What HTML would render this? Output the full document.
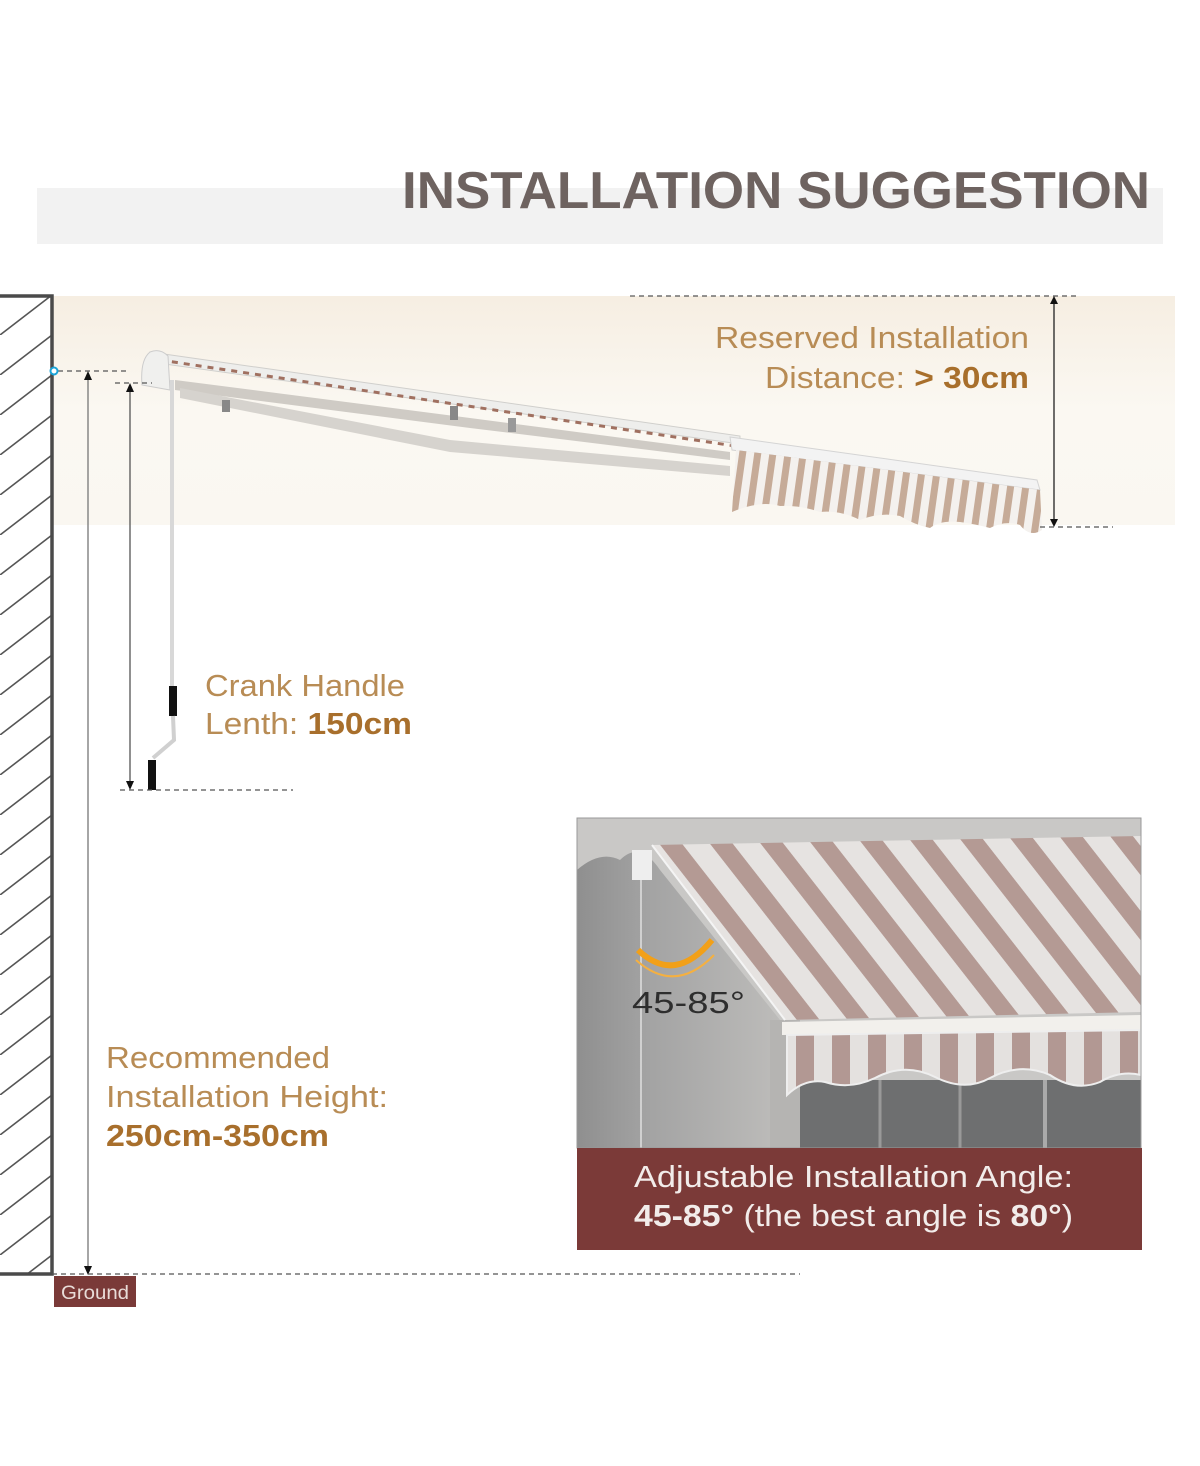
<!DOCTYPE html>
<html><head><meta charset="utf-8"><style>
html,body{margin:0;padding:0;background:#fff;}
svg{display:block;}
text{font-family:"Liberation Sans",sans-serif;}
</style></head><body>
<svg width="1200" height="1466" viewBox="0 0 1200 1466" xmlns="http://www.w3.org/2000/svg">
<defs>
<linearGradient id="band" x1="0" y1="0" x2="0" y2="1">
<stop offset="0" stop-color="#f6eee2"/><stop offset="0.5" stop-color="#fbf8f2"/><stop offset="1" stop-color="#faf7f1"/>
</linearGradient>
<pattern id="hatch" width="52" height="40" patternUnits="userSpaceOnUse" x="0" y="295">
<line x1="0" y1="40" x2="52" y2="0" stroke="#555" stroke-width="1.6"/>
</pattern>
<pattern id="vstripe" width="15" height="20" patternUnits="userSpaceOnUse" patternTransform="rotate(8)">
<rect width="15" height="20" fill="#f4f1ee"/><rect width="7" height="20" fill="#c6ab98"/>
</pattern>
<pattern id="dstripe" width="40" height="40" patternUnits="userSpaceOnUse" patternTransform="rotate(-38)">
<rect width="40" height="40" fill="#e6e3e1"/><rect width="18" height="40" fill="#b49a94"/>
</pattern>
<pattern id="pstripe" width="36" height="20" patternUnits="userSpaceOnUse">
<rect width="36" height="20" fill="#e4e1df"/><rect x="4" width="18" height="20" fill="#b29893"/>
</pattern>
<linearGradient id="wall" x1="0" y1="0" x2="1" y2="0">
<stop offset="0" stop-color="#8f8f8f"/><stop offset="0.35" stop-color="#a3a3a3"/><stop offset="1" stop-color="#bdbcba"/>
</linearGradient>
<clipPath id="pc"><rect x="577" y="818" width="564" height="330"/></clipPath>
</defs>

<rect x="37" y="188" width="1126" height="56" fill="#f2f2f2"/>
<text x="402" y="208" font-size="52" font-weight="bold" fill="#6e6360" textLength="748" lengthAdjust="spacingAndGlyphs">INSTALLATION SUGGESTION</text>

<rect x="52" y="296" width="1123" height="229" fill="url(#band)"/>

<rect x="0" y="296" width="52" height="978" fill="url(#hatch)"/>
<path d="M0 296 H52 V1274 H0" fill="none" stroke="#4a4a4a" stroke-width="3.5"/>

<g>
<polygon points="150,352 740,436 740,444 150,362" fill="#eeeeec" stroke="#d0cfcc"/>
<line x1="160" y1="360" x2="735" y2="446" stroke="#a07060" stroke-width="3" stroke-dasharray="6,6"/>
<polygon points="175,380 470,418 730,452 730,460 470,428 175,390" fill="#cfcbc5"/>
<polygon points="180,388 450,440 730,466 730,476 450,452 180,398" fill="#d6d3ce"/>
<path d="M142 385 Q140 360 150 352 Q160 348 168 356 L170 390 Z" fill="#f0f0ee" stroke="#ccc"/>
<rect x="222" y="400" width="8" height="12" fill="#888"/>
<rect x="450" y="406" width="8" height="14" fill="#888"/>
<rect x="508" y="418" width="8" height="14" fill="#999"/>
<polygon points="730,437 1037,480 1040,490 732,450" fill="#f3f3f3" stroke="#d4d4d4"/>
<path d="M736 450 L1040 490 L1042 530 Q1030 538 1020 525 Q1005 520 990 528 Q975 524 960 522 Q940 520 930 528 Q915 525 900 516 Q880 512 860 520 Q840 510 820 512 Q800 505 780 506 Q760 500 732 512 Z" fill="url(#vstripe)"/>
<line x1="172" y1="380" x2="172" y2="690" stroke="#d8d8d8" stroke-width="4"/>
<rect x="169" y="686" width="8" height="30" fill="#111"/>
<path d="M173 716 L174 740 L153 758" fill="none" stroke="#d0d0d0" stroke-width="4"/>
<rect x="148" y="760" width="8" height="30" fill="#111"/>
</g>

<line x1="630" y1="296" x2="1080" y2="296" stroke="#555" stroke-width="1.2" stroke-dasharray="5,4"/>
<line x1="1040" y1="527" x2="1113" y2="527" stroke="#555" stroke-width="1.2" stroke-dasharray="5,4"/>
<line x1="1054" y1="302" x2="1054" y2="521" stroke="#222" stroke-width="1.3"/>
<polygon points="1054,296 1050,304 1058,304" fill="#111"/>
<polygon points="1054,527 1050,519 1058,519" fill="#111"/>

<line x1="58" y1="371" x2="130" y2="371" stroke="#555" stroke-width="1.2" stroke-dasharray="5,4"/>
<circle cx="54" cy="371" r="3.5" fill="#fff" stroke="#1aa3d8" stroke-width="2"/>
<line x1="88" y1="378" x2="88" y2="1268" stroke="#777" stroke-width="1.3"/>
<polygon points="88,371 84,380 92,380" fill="#111"/>
<polygon points="88,1275 84,1266 92,1266" fill="#111"/>
<line x1="115" y1="383" x2="152" y2="383" stroke="#555" stroke-width="1.2" stroke-dasharray="5,4"/>
<line x1="130" y1="390" x2="130" y2="784" stroke="#555" stroke-width="1.3"/>
<polygon points="130,383 126,392 134,392" fill="#111"/>
<polygon points="130,790 126,781 134,781" fill="#111"/>
<line x1="120" y1="790" x2="293" y2="790" stroke="#555" stroke-width="1.2" stroke-dasharray="5,4"/>
<line x1="52" y1="1274" x2="800" y2="1274" stroke="#555" stroke-width="1.2" stroke-dasharray="5,4"/>
<rect x="54" y="1276" width="82" height="31" fill="#7a3a38"/>
<text x="61" y="1299" font-size="19" fill="#e8dcd8" textLength="68" lengthAdjust="spacingAndGlyphs">Ground</text>

<g font-size="31" fill="#b88c55">
<text x="715" y="348" textLength="314" lengthAdjust="spacingAndGlyphs">Reserved Installation</text>
<text x="765" y="388" textLength="264" lengthAdjust="spacingAndGlyphs">Distance: <tspan font-weight="bold" fill="#a86f2c">&gt; 30cm</tspan></text>
<text x="205" y="696" textLength="200" lengthAdjust="spacingAndGlyphs">Crank Handle</text>
<text x="205" y="734" textLength="207" lengthAdjust="spacingAndGlyphs">Lenth: <tspan font-weight="bold" fill="#a86f2c">150cm</tspan></text>
<text x="106" y="1068" textLength="224" lengthAdjust="spacingAndGlyphs">Recommended</text>
<text x="106" y="1107" textLength="282" lengthAdjust="spacingAndGlyphs">Installation Height:</text>
<text x="106" y="1146" font-weight="bold" fill="#a86f2c" textLength="223" lengthAdjust="spacingAndGlyphs">250cm-350cm</text>
</g>

<g clip-path="url(#pc)">
<rect x="577" y="818" width="564" height="330" fill="#c9c8c6"/>
<path d="M577 870 Q600 850 620 860 Q640 840 660 870 L780 1020 L780 1148 L577 1148 Z" fill="url(#wall)"/>
<rect x="780" y="1080" width="361" height="68" fill="#6e6f70"/>
<line x1="880" y1="1080" x2="880" y2="1148" stroke="#999" stroke-width="3"/>
<line x1="960" y1="1080" x2="960" y2="1148" stroke="#999" stroke-width="3"/>
<line x1="1045" y1="1080" x2="1045" y2="1148" stroke="#aaa" stroke-width="4"/>
<rect x="770" y="1020" width="30" height="128" fill="#b5b4b2"/>
<polygon points="652,845 1141,836 1141,1012 785,1020" fill="url(#dstripe)"/>
<line x1="652" y1="845" x2="785" y2="1020" stroke="#f4f4f4" stroke-width="2"/>
<rect x="632" y="850" width="20" height="30" fill="#eeeeee"/>
<line x1="641" y1="880" x2="641" y2="1148" stroke="#d0d0d0" stroke-width="2"/>
<polygon points="782,1022 1141,1015 1141,1030 782,1035" fill="#f2f0ec"/>
<path d="M787 1035 L1141 1030 L1141 1075 Q1120 1070 1100 1082 Q1075 1092 1050 1075 Q1020 1062 990 1078 Q965 1092 935 1077 Q905 1062 875 1078 Q850 1090 825 1082 Q805 1078 787 1095 Z" fill="url(#pstripe)" stroke="#eee" stroke-width="2"/>
<path d="M638 950 Q675 985 712 940" fill="none" stroke="#f2a018" stroke-width="6"/>
<path d="M636 960 Q675 995 714 955" fill="none" stroke="#f5b040" stroke-width="2"/>
<text x="632" y="1013" font-size="31" fill="#2e2e2e" textLength="113" lengthAdjust="spacingAndGlyphs">45-85°</text>
</g>
<rect x="577" y="818" width="564" height="330" fill="none" stroke="#999" stroke-width="1"/>
<rect x="577" y="1148" width="565" height="102" fill="#7b3a38"/>
<text x="634" y="1187" font-size="31" fill="#f2ecea" textLength="439" lengthAdjust="spacingAndGlyphs">Adjustable Installation Angle:</text>
<text x="634" y="1226" font-size="31" fill="#f2ecea" textLength="439" lengthAdjust="spacingAndGlyphs"><tspan font-weight="bold">45-85°</tspan> (the best angle is <tspan font-weight="bold">80°</tspan>)</text>
</svg>
</body></html>
